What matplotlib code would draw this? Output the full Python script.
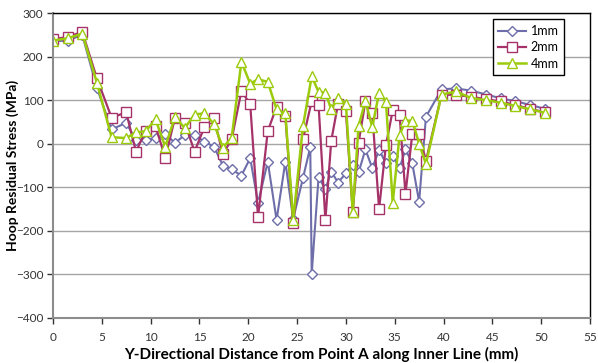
import matplotlib.pyplot as plt

# distance along inner line (mm)
x_2mm = [0, 1.5, 3, 4.5, 6, 7.5, 8.5, 9.5, 10.5, 11.5, 12.5, 13.5, 14.5, 15.5, 16.5,
         17.4, 18.3, 19.3, 20.2, 21.0, 22.0, 22.9, 23.8, 24.6, 25.6, 26.5, 27.2, 27.9,
         28.5, 29.2, 30.0, 30.7, 31.3, 32.0, 32.7, 33.4, 34.1, 34.8, 35.5, 36.1, 36.8,
         37.5, 38.2, 39.8, 41.3, 42.8, 44.4, 45.9, 47.3, 48.9, 50.4]
x_4mm = list(x_2mm)
x_1mm = x_2mm[:25] + [26.35] + x_2mm[25:]

s_1mm = [235, 237, 250, 128, 33, 48, 8, 8, 13, 22, 2, 20, 20, 5, -7,
         -50, -59, -73, -33, -136, -41, -175, -41, -173, -79, -8, -298, -77, -104,
         -64, -89, -68, -49, -66, -13, -56, -14, -45, -28, -56, -13, -45,
         -133, 62, 125, 127, 122, 113, 104, 98, 89, 80]
s_2mm = [240, 245, 257, 150, 60, 72, -18, 30, 40, -32, 60, 48, -18, 38, 58,
         -24, 10, 121, 91, -168, 29, 85, 63, -182, 10, 98, 90, -175,
         7, 92, 75, -156, 2, 98, 71, -150, -3, 77, 66, -115, 22,
         22, -39, 113, 112, 108, 102, 97, 89, 80, 72]
s_4mm = [237, 242, 253, 140, 15, 13, 26, 29, 56, -7, 62, 36, 67, 70, 45,
         -9, 14, 188, 138, 148, 142, 79, 70, -176, 40, 155, 119, 117,
         79, 106, 92, -156, 41, 98, 38, 117, 96, -135, 20, 53, 53,
         0, -46, 113, 120, 105, 100, 94, 87, 79, 71]

plt.rcParams['font.family'] = ['Lato', 'DejaVu Sans']

fig = plt.figure(figsize=(5.98, 3.63), dpi=100)
ax = fig.add_axes([0.0886, 0.124, 0.8980, 0.840])

ax.plot(x_1mm, s_1mm, color='#6E6EAA', lw=1.5, marker='D', ms=5,
        mfc='white', mec='#6E6EAA', mew=1, label='1mm')
ax.plot(x_2mm, s_2mm, color='#A5336A', lw=1.6, marker='s', ms=7,
        mfc='white', mec='#A5336A', mew=1, label='2mm')
ax.plot(x_4mm, s_4mm, color='#9BCB0C', lw=1.8, marker='^', ms=7.5,
        mfc='white', mec='#9BCB0C', mew=1, label='4mm')

ax.set_xlim(0, 55)
ax.set_ylim(-400, 300)
ax.set_xticks(range(0, 56, 5))
ax.set_yticks(range(-400, 301, 100))
ax.yaxis.grid(True, color='#a6a6a6', lw=1)
ax.set_axisbelow(True)
ax.tick_params(labelsize=8.5, colors='#333333', length=4, width=1, pad=3)
ax.tick_params(axis='x', pad=6)

for side in ['left', 'bottom']:
    ax.spines[side].set_color('#8c8c8c')
    ax.spines[side].set_linewidth(1.5)
for side in ['top', 'right']:
    ax.spines[side].set_color('black')
    ax.spines[side].set_linewidth(1)

ax.set_xlabel('Y-Directional Distance from Point A along Inner Line (mm)',
              fontsize=11, fontweight='bold', labelpad=3)
ax.set_ylabel('Hoop Residual Stress (MPa)', fontsize=10, fontweight='bold')
ax.yaxis.set_label_coords(-0.063, 0.5)

leg = ax.legend(loc='upper right', bbox_to_anchor=(0.964, 1.0), fontsize=9,
                fancybox=False, edgecolor='black', framealpha=1,
                handlelength=2.2, handletextpad=0.4, borderpad=0.45,
                labelspacing=0.35)
leg.get_frame().set_linewidth(1)

fig.savefig('out.png', dpi=100)
